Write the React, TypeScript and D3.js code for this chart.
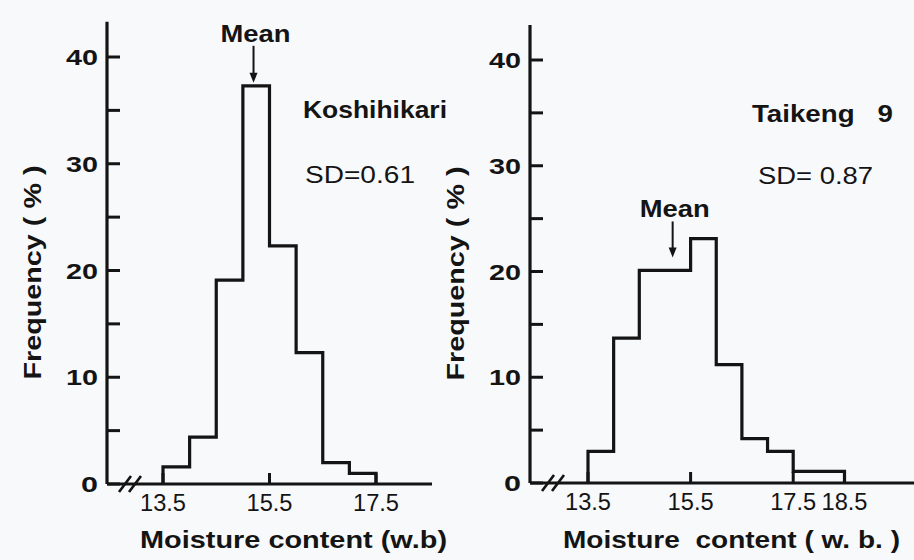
import React, { useRef, useEffect } from 'react'
import { select, scaleLinear, line } from 'd3'

// Koshihikari histogram (bin edges, % frequency per bin)
const koshiEdges = [13.5, 14.0, 14.5, 15.0, 15.5, 16.0, 16.5, 17.0, 17.5]
const koshiFreq = [1.6, 4.4, 19.1, 37.3, 22.3, 12.3, 2.0, 1.0]
const koshiMean = 15.2

// Taikeng 9 histogram
const taikengEdges = [13.5, 14.0, 14.5, 15.0, 15.5, 16.0, 16.5, 17.0, 17.5, 18.5]
const taikengFreq = [3.0, 13.7, 20.1, 20.1, 23.1, 11.2, 4.2, 3.0, 1.1]
const taikengMean = 15.15

const yMajorTicks = [0, 10, 20, 30, 40]
const yMinorTicks = [5, 15, 25, 35]
const koshiXTicks = [13.5, 15.5, 17.5]
const taikengXTicks = [13.5, 15.5, 17.5, 18.5]

const FONT = '"Liberation Sans", Arial, sans-serif'
const INK = '#141414'

const panels = [
    {
        edges: koshiEdges, freq: koshiFreq, mean: koshiMean, xTicks: koshiXTicks,
        x0: 107, xAxisEnd: 432, xRange: [163, 376], yRange: [484, 57],
        arrowGap: 3, arrowLen: 37,
        name: 'Koshihikari', nameX: 303, nameY: 118, nameW: 144,
        sd: 'SD=0.61', sdX: 305, sdY: 183, sdW: 110,
        xLabel: 'Moisture content (w.b)', xLabelX: 140, xLabelW: 307,
        yLabelX: 41,
    },
    {
        edges: taikengEdges, freq: taikengFreq, mean: taikengMean, xTicks: taikengXTicks,
        x0: 530, xAxisEnd: 914, xRange: [588, 844.5], yRange: [483, 60],
        arrowGap: 13, arrowLen: 36,
        name: 'Taikeng\u00a0\u00a0\u00a09', nameX: 752, nameY: 122, nameW: 141,
        sd: 'SD=\u00a00.87', sdX: 758, sdY: 184, sdW: 115,
        xLabel: 'Moisture\u00a0\u00a0content\u00a0(\u00a0w.\u00a0b.\u00a0)', xLabelX: 563, xLabelW: 337,
        yLabelX: 464,
    },
]

const App = () => {
    const svgRef = useRef(null)

    useEffect(() => {
        const svg = select(svgRef.current)
        svg.selectAll('*').remove()

        svg.append('rect').attr('width', 914).attr('height', 560).attr('fill', '#f8f9fb')

        panels.forEach(p => {
            const g = svg.append('g')
            const x = scaleLinear().domain([p.xTicks[0], p.xTicks[p.xTicks.length - 1]])
                .range(p.xRange)
            const y = scaleLinear().domain([0, 40]).range(p.yRange)
            const yTop = y(43.3)
            const base = y(0)

            // y axis
            g.append('line').attr('x1', p.x0).attr('x2', p.x0).attr('y1', yTop).attr('y2', base)
                .attr('stroke', INK).attr('stroke-width', 3.2)
            g.selectAll('.ytick').data(yMajorTicks.concat(yMinorTicks)).join('line')
                .attr('x1', p.x0).attr('x2', p.x0 + 13)
                .attr('y1', d => y(d)).attr('y2', d => y(d))
                .attr('stroke', INK).attr('stroke-width', 3)
            g.selectAll('.ylab').data(yMajorTicks).join('text')
                .attr('x', d => p.x0 - 9 - (d === 0 ? 17 : 32)).attr('y', d => y(d) + 8)
                .attr('textLength', d => (d === 0 ? 17 : 32))
                .attr('lengthAdjust', 'spacingAndGlyphs')
                .style('font', `bold 22px ${FONT}`).attr('fill', INK)
                .text(d => d)

            // x axis with break marks
            g.append('line').attr('x1', p.x0).attr('x2', p.xAxisEnd).attr('y1', base).attr('y2', base)
                .attr('stroke', INK).attr('stroke-width', 3.2)
            ;[0, 10].forEach(off => {
                g.append('line')
                    .attr('x1', p.x0 + 12 + off).attr('y1', base + 8)
                    .attr('x2', p.x0 + 24 + off).attr('y2', base - 8)
                    .attr('stroke', INK).attr('stroke-width', 2.6)
            })
            g.selectAll('.xtick').data(p.xTicks).join('line')
                .attr('x1', d => x(d)).attr('x2', d => x(d))
                .attr('y1', base).attr('y2', base - 11)
                .attr('stroke', INK).attr('stroke-width', 3)
            g.selectAll('.xlab').data(p.xTicks).join('text')
                .attr('x', d => x(d) - 23).attr('y', base + 27)
                .attr('textLength', 46).attr('lengthAdjust', 'spacingAndGlyphs')
                .style('font', `23px ${FONT}`).attr('fill', INK)
                .text(d => d.toFixed(1))

            // histogram outline
            const pts = [[p.edges[0], 0]]
            p.freq.forEach((v, i) => {
                pts.push([p.edges[i], v])
                pts.push([p.edges[i + 1], v])
            })
            pts.push([p.edges[p.edges.length - 1], 0])
            const path = line().x(d => x(d[0])).y(d => y(d[1]))
            g.append('path').attr('d', path(pts))
                .attr('fill', 'none').attr('stroke', INK).attr('stroke-width', 3.2)
                .attr('stroke-linejoin', 'miter')

            // mean arrow
            const bin = p.edges.findIndex((e, i) => p.mean >= e && p.mean < p.edges[i + 1])
            const mx = x(p.mean)
            const tip = y(p.freq[bin]) - p.arrowGap
            g.append('line').attr('x1', mx).attr('x2', mx)
                .attr('y1', tip - p.arrowLen).attr('y2', tip - 8)
                .attr('stroke', INK).attr('stroke-width', 2)
            g.append('path')
                .attr('d', `M${mx - 4},${tip - 10}L${mx + 4},${tip - 10}L${mx},${tip}Z`)
                .attr('fill', INK)
            g.append('text').attr('x', mx - 33).attr('y', tip - p.arrowLen - 4)
                .attr('textLength', 70).attr('lengthAdjust', 'spacingAndGlyphs')
                .style('font', `bold 24px ${FONT}`).attr('fill', INK)
                .text('Mean')

            // annotations
            g.append('text').attr('x', p.nameX).attr('y', p.nameY)
                .attr('textLength', p.nameW).attr('lengthAdjust', 'spacingAndGlyphs')
                .style('font', `bold 24px ${FONT}`).attr('fill', INK).text(p.name)
            g.append('text').attr('x', p.sdX).attr('y', p.sdY)
                .attr('textLength', p.sdW).attr('lengthAdjust', 'spacingAndGlyphs')
                .style('font', `23px ${FONT}`).attr('fill', INK).text(p.sd)

            // axis titles
            g.append('text').attr('x', p.xLabelX).attr('y', 548)
                .attr('textLength', p.xLabelW).attr('lengthAdjust', 'spacingAndGlyphs')
                .style('font', `bold 24px ${FONT}`).attr('fill', INK).text(p.xLabel)
            g.append('text')
                .attr('transform', `translate(${p.yLabelX},${(y(0) + y(40)) / 2 + 2}) rotate(-90)`)
                .attr('text-anchor', 'middle')
                .attr('textLength', 214).attr('lengthAdjust', 'spacingAndGlyphs')
                .style('font', `bold 23px ${FONT}`).attr('fill', INK)
                .text('Frequency\u00a0(\u00a0%\u00a0)')
        })
    }, [])

    return (
        <svg ref={svgRef} width={914} height={560}
            style={{ position: 'fixed', top: 0, left: 0, display: 'block' }} />
    )
}

export default App
